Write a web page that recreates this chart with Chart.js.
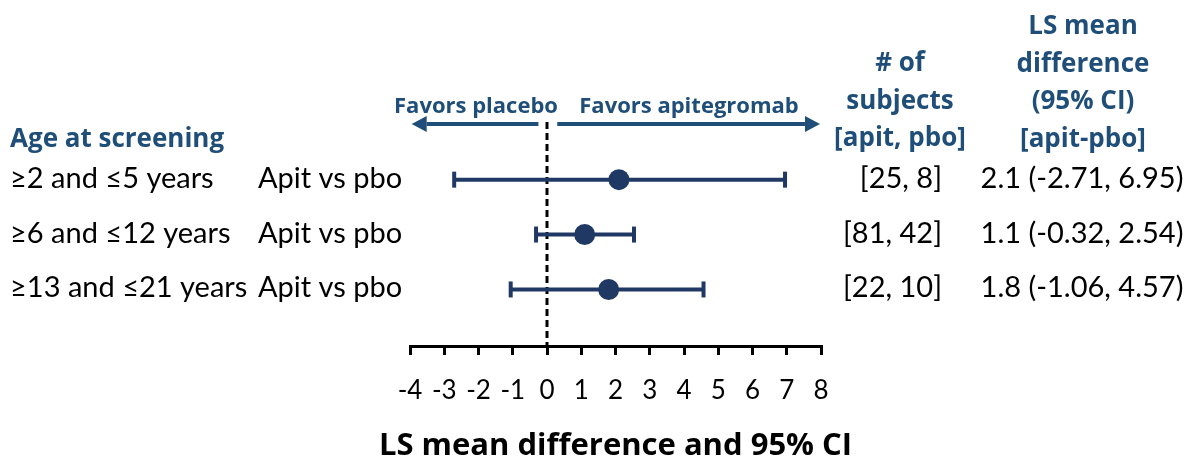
<!DOCTYPE html>
<html>
<head>
<meta charset="utf-8">
<script src="https://cdn.jsdelivr.net/npm/chart.js@4"></script>
<style>
  html, body { margin: 0; padding: 0; background: #fff; }
  #wrap { width: 1191px; height: 462px; }
</style>
</head>
<body>
<div id="wrap"><canvas id="forest" width="1191" height="462"></canvas></div>
<script>
// Datos del forest plot
const ageGroups = ['≥2 and ≤5 years', '≥6 and ≤12 years', '≥13 and ≤21 years'];
const comparisons = ['Apit vs pbo', 'Apit vs pbo', 'Apit vs pbo'];
const lsMeanDiff = [2.1, 1.1, 1.8];
const ciLower = [-2.71, -0.32, -1.06];
const ciUpper = [6.95, 2.54, 4.57];
const subjectCounts = ['[25, 8]', '[81, 42]', '[22, 10]'];
const diffLabels = ['2.1 (-2.71, 6.95)', '1.1 (-0.32, 2.54)', '1.8 (-1.06, 4.57)'];
const xTickMin = -4;
const xTickMax = 8;
const xTitle = 'LS mean difference and 95% CI';

const rowPos = ageGroups.map((g, i) => i + 1);

const NAVY = '#203864';
const BLUE = '#1F4E79';
const FONT = 'Lato, "Open Sans", sans-serif';
const BOLD_FONT = '"Open Sans", Lato, sans-serif';

// Dibuja flecha horizontal con punta
function drawArrow(ctx, x0, x1, y) {
    const dir = x1 > x0 ? 1 : -1;
    const head = 15;
    ctx.save();
    ctx.strokeStyle = BLUE;
    ctx.fillStyle = BLUE;
    ctx.lineWidth = 4;
    ctx.beginPath();
    ctx.moveTo(x0, y);
    ctx.lineTo(x1 - dir * head, y);
    ctx.stroke();
    ctx.beginPath();
    ctx.moveTo(x1, y);
    ctx.lineTo(x1 - dir * head, y - 8);
    ctx.lineTo(x1 - dir * head, y + 8);
    ctx.closePath();
    ctx.fill();
    ctx.restore();
}

const tablePlugin = {
    id: 'forestTable',
    afterDraw(chart) {
        const ctx = chart.ctx;
        const xs = chart.scales.x;
        const ys = chart.scales.y;
        const area = chart.chartArea;
        const top = area.top;

        // Flechas "Favors"
        const zero = xs.getPixelForValue(0);
        drawArrow(ctx, xs.getPixelForValue(-0.25), xs.getPixelForValue(-3.95), top + 2);
        drawArrow(ctx, xs.getPixelForValue(0.3), xs.getPixelForValue(7.97), top + 2);

        ctx.save();
        ctx.textBaseline = 'alphabetic';
        ctx.fillStyle = BLUE;
        ctx.font = 'bold 22px ' + BOLD_FONT;
        ctx.textAlign = 'center';
        ctx.fillText('Favors placebo', zero - 71, top - 9);
        ctx.fillText('Favors apitegromab', zero + 142, top - 9);

        // Encabezados
        ctx.font = 'bold 26px ' + BOLD_FONT;
        ctx.textAlign = 'left';
        ctx.fillText('Age at screening', 10, 147);
        ctx.textAlign = 'center';
        ['# of', 'subjects', '[apit, pbo]'].forEach((t, i) => {
            ctx.fillText(t, 900, 71 + i * 37.5);
        });
        ['LS mean', 'difference', '(95% CI)', '[apit-pbo]'].forEach((t, i) => {
            ctx.fillText(t, 1083, 34 + i * 37.5);
        });

        // Filas
        ctx.fillStyle = '#000';
        ctx.font = '29px ' + FONT;
        rowPos.forEach((r, i) => {
            const y = ys.getPixelForValue(r) + 8;
            ctx.textAlign = 'left';
            ctx.fillText(ageGroups[i], 10, y);
            ctx.fillText(comparisons[i], 258, y);
            ctx.textAlign = 'right';
            ctx.fillText(subjectCounts[i], 942, y);
            ctx.textAlign = 'center';
            ctx.fillText(diffLabels[i], 1082, y);
        });

        // Titulo del eje X (sin ancho maximo para no comprimirlo)
        ctx.font = 'bold 31px ' + BOLD_FONT;
        ctx.textAlign = 'center';
        ctx.fillText(xTitle, (area.left + area.right) / 2, xs.bottom - 7);
        ctx.restore();
    }
};

const yMin = -0.05;
const yMax = 4.03;

const datasets = [
    {
        label: 'LS mean difference',
        data: rowPos.map((r, i) => ({ x: lsMeanDiff[i], y: r })),
        pointRadius: 10.5,
        pointBackgroundColor: NAVY,
        pointBorderColor: NAVY,
        pointBorderWidth: 0,
        showLine: false
    },
    ...rowPos.map((r, i) => ({
        label: '95% CI ' + ageGroups[i],
        data: [{ x: ciLower[i], y: r }, { x: ciUpper[i], y: r }],
        showLine: true,
        borderColor: NAVY,
        borderWidth: 4,
        pointStyle: 'line',
        rotation: 90,
        pointRadius: 8,
        pointBorderColor: NAVY,
        pointBorderWidth: 4
    })),
    {
        label: 'zero',
        data: [{ x: 0, y: yMin }, { x: 0, y: yMax }],
        showLine: true,
        borderColor: '#000',
        borderWidth: 3,
        borderDash: [7, 4],
        pointRadius: 0
    }
];

new Chart(document.getElementById('forest'), {
    type: 'scatter',
    data: { datasets },
    options: {
        responsive: false,
        animation: false,
        devicePixelRatio: 1,
        layout: { padding: { left: 410, right: 370, top: 122, bottom: 0 } },
        plugins: { legend: { display: false }, tooltip: { enabled: false } },
        scales: {
            x: {
                type: 'linear',
                min: xTickMin,
                max: xTickMax,
                ticks: {
                    stepSize: 1,
                    color: '#000',
                    font: { family: FONT, size: 26 },
                    padding: 20,
                    maxRotation: 0
                },
                grid: {
                    drawOnChartArea: false,
                    drawTicks: true,
                    tickLength: 9,
                    lineWidth: 3,
                    color: '#000'
                },
                border: { display: true, color: '#000', width: 3 },
                title: { display: false, text: xTitle },
                afterFit: (scale) => { scale.height = 116; }
            },
            y: {
                display: false,
                min: yMin,
                max: yMax,
                reverse: true
            }
        }
    },
    plugins: [tablePlugin]
});
</script>
</body>
</html>
